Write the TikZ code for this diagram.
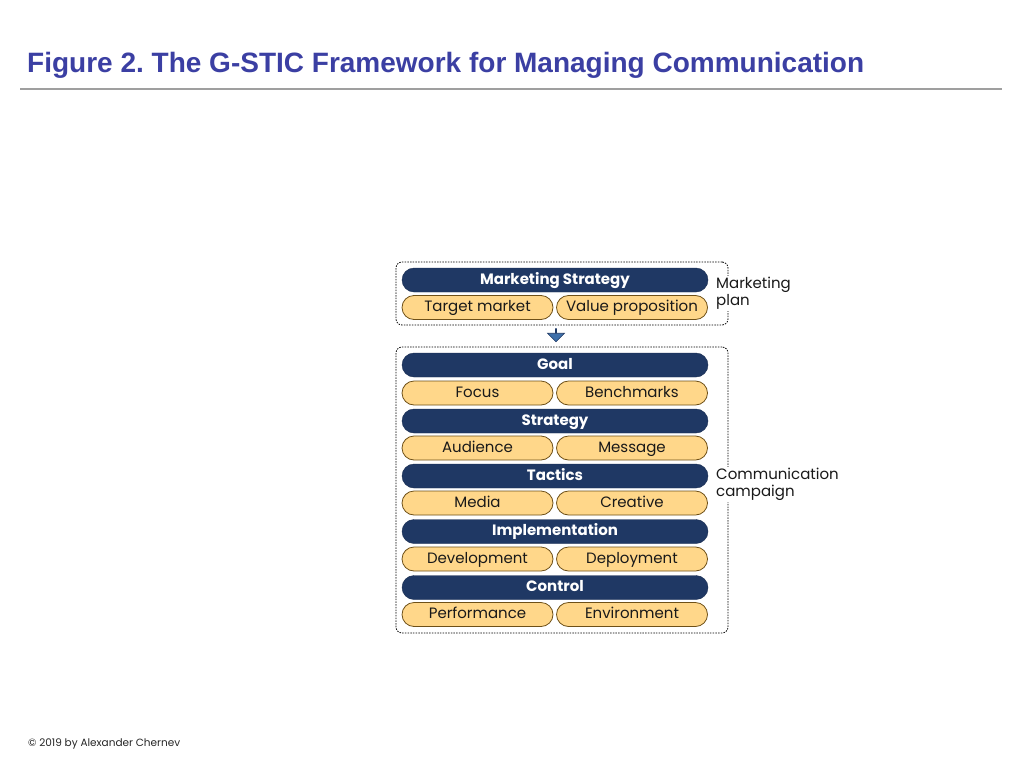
\documentclass[tikz,border=0pt]{standalone}
\usepackage{fontspec}
\setmainfont{Poppins}
\newfontfamily\titlefont{Liberation Sans}
\usetikzlibrary{shapes.arrows}
\definecolor{titleblue}{HTML}{3B3FA3}
\definecolor{navy}{HTML}{1F3864}
\definecolor{pill}{HTML}{FFD78A}
\definecolor{pillborder}{HTML}{6E5018}
\definecolor{arrowblue}{HTML}{3F70AA}
\frenchspacing
\begin{document}
\begin{tikzpicture}[x=1pt,y=-1pt,
 bar/.style={draw=navy!80!black, fill=navy, rounded corners=12pt, minimum width=306pt, minimum height=24pt, text=white, font=\fontsize{15}{17}\selectfont\bfseries, inner sep=0pt, text height=10.5pt, text depth=2.5pt},
 pillbox/.style={draw=pillborder, line width=0.8pt, fill=pill, rounded corners=12pt, minimum width=151pt, minimum height=24pt, font=\fontsize{15}{17}\selectfont, inner sep=0pt, text=black!90, text height=10.5pt, text depth=2.5pt},
 grp/.style={draw, dash pattern=on 1.5pt off 1.2pt, rounded corners=6pt, line width=0.8pt, minimum width=332pt, inner sep=0pt},
 side/.style={anchor=north west, align=left, font=\fontsize{15}{17}\selectfont, inner sep=1pt, fill=white, text=black!90}]
\useasboundingbox[fill=white] (0,0) rectangle (1024,768);
% title
\node[anchor=base west, inner sep=0pt, text=titleblue, font=\titlefont\fontsize{28}{32}\selectfont\bfseries] (title) at (27,72) {Figure 2. The G-STIC Framework for Managing Communication};
\draw[gray!75, line width=1.2pt] (20,89) -- (1002,89);
% groups
\node[grp, minimum height=63pt] (plan) at (562,293.5) {};
\node[grp, minimum height=286pt] (camp) at (562,490) {};
% marketing plan
\node[bar] (ms) at (555,280) {Marketing Strategy};
\node[pillbox] (tm) at (477.5,307.5) {Target market};
\node[pillbox] (vp) at (632,307.5) {Value proposition};
\node[side] (mpl) at (715,276) {Marketing\\plan};
% arrow
\node[single arrow, draw=navy, fill=arrowblue, rotate=-90, minimum width=17pt, minimum height=13pt, single arrow head extend=4.5pt, single arrow head indent=0pt, inner sep=0pt, line width=0.6pt] (arr) at (556,335) {};
% campaign
\node[bar] (goal) at (555,365) {Goal};
\node[pillbox] (focus) at (477.5,393) {Focus};
\node[pillbox] (bench) at (632,393) {Benchmarks};
\node[bar] (strat) at (555,421) {Strategy};
\node[pillbox] (aud) at (477.5,448) {Audience};
\node[pillbox] (msg) at (632,448) {Message};
\node[bar] (tact) at (555,476) {Tactics};
\node[pillbox] (media) at (477.5,503) {Media};
\node[pillbox] (creat) at (632,503) {Creative};
\node[bar] (impl) at (555,531.5) {Implementation};
\node[pillbox] (dev) at (477.5,559) {Development};
\node[pillbox] (depl) at (632,559) {Deployment};
\node[bar] (ctrl) at (555,587.5) {Control};
\node[pillbox] (perf) at (477.5,614.5) {Performance};
\node[pillbox] (env) at (632,614.5) {Environment};
\node[side] (cc) at (715,467) {Communication\\campaign};
% footer
\node[anchor=base west, inner sep=0pt, font=\fontsize{10.5}{12}\selectfont, text=black!85] (foot) at (28,746) {© 2019 by Alexander Chernev};
\end{tikzpicture}
\end{document}
